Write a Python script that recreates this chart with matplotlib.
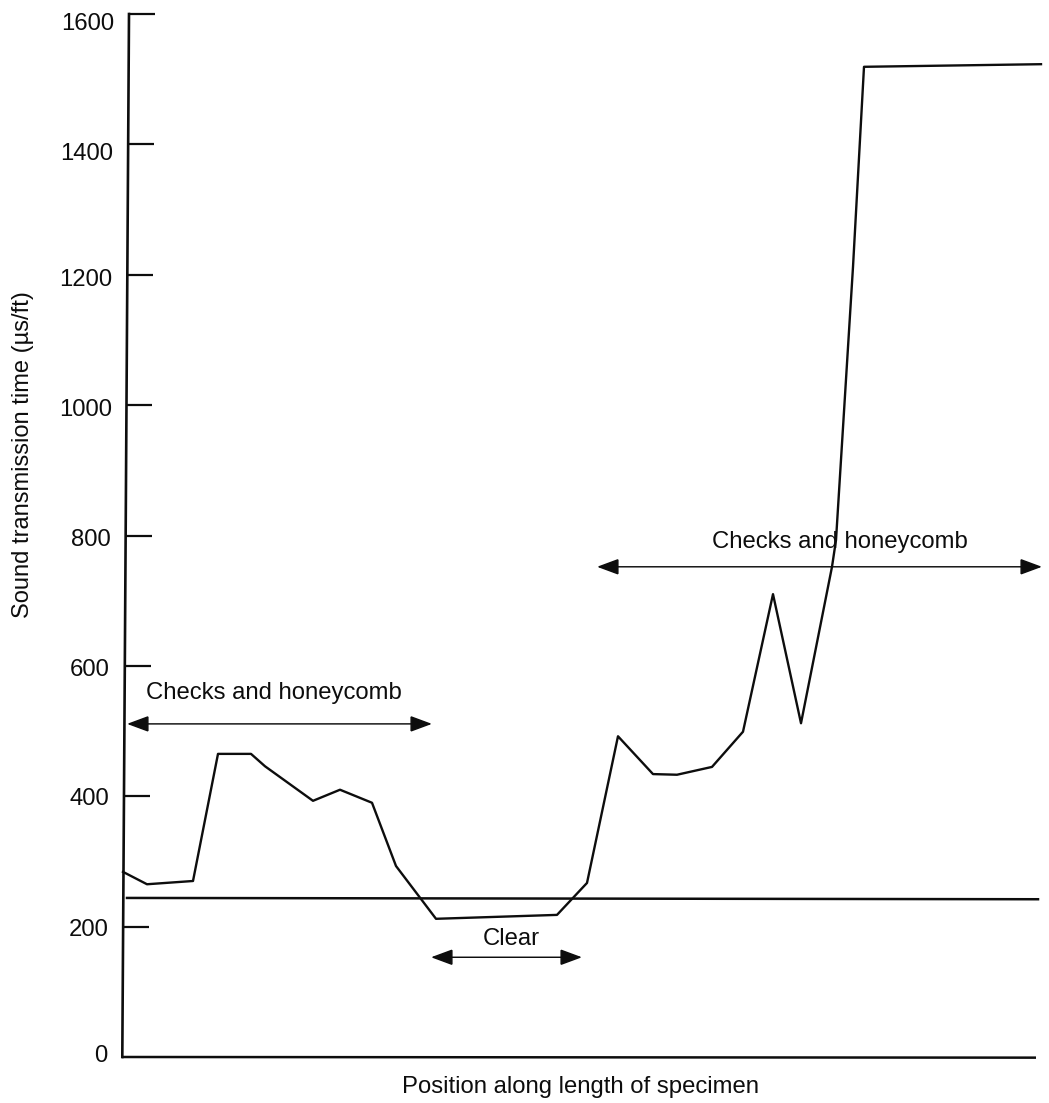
import matplotlib
matplotlib.use("Agg")
import matplotlib.pyplot as plt
from matplotlib.transforms import ScaledTranslation

plt.rcParams['font.family'] = ['Liberation Sans', 'DejaVu Sans']

W, H = 1049, 1103
INK = '#0d0d0d'
FS = 17.2

# position along specimen (arbitrary units), sound transmission time (us/ft)
position = [123, 147, 193, 218, 251, 265, 313, 340, 372, 396, 436, 557, 587,
            618, 653, 677, 712, 743, 773, 801, 832, 836, 853, 864, 1041]
time_us = [284, 265, 270, 465, 465, 446, 393, 410, 390, 293, 212, 218, 267,
           492, 434, 433, 445, 499, 710, 512, 752, 793, 1212, 1519, 1523]
threshold_pos = [127, 1038]
threshold_val = [244, 242]

yticks = [0, 200, 400, 600, 800, 1000, 1200, 1400, 1600]
ytick_marks = [200, 400, 600, 800, 1000, 1200, 1400, 1600]
axis_x = [122.3, 129]
axis_y = [0, 1600]
xaxis_x = [122, 1036]
xaxis_y = [0, -1]
spans = [(127, 432, 511), (597, 1042, 752), (431, 582, 153)]
span_labels = [("Checks and honeycomb", 274, 558),
               ("Checks and honeycomb", 840, 790),
               ("Clear", 511, 181)]
# nudges of the scanned tick labels, in pixels (downwards)
label_nudge = [-3, 1, 0, 2, 2, 2, 3, 7, 7]

fig = plt.figure(figsize=(W / 100, H / 100), dpi=100)
L, R, T, B = 122, 1045, 14, 1057
ax = fig.add_axes([L / W, 1 - B / H, (R - L) / W, (B - T) / H])
ax.set_xlim(L, R)
ax.set_ylim(0, 1600)
ax.patch.set_visible(False)
for s in ('top', 'right', 'left', 'bottom'):
    ax.spines[s].set_visible(False)
LW = 1.8

ax.plot(xaxis_x, xaxis_y, color=INK, lw=LW, clip_on=False, solid_capstyle='butt')
ax.plot(axis_x, axis_y, color=INK, lw=LW + 0.1, clip_on=False, solid_capstyle='projecting')


def axis_at(v):
    return axis_x[0] + (axis_x[1] - axis_x[0]) * v / 1600


for v in ytick_marks:
    x0 = axis_at(v)
    ax.plot([x0, x0 + 26], [v, v], color=INK, lw=1.6, clip_on=False, solid_capstyle='butt')

ax.set_xticks([])
ax.set_yticks(yticks)
ax.tick_params(axis='y', length=0, pad=0, labelsize=FS, labelcolor=INK)
for v, nudge, tick in zip(yticks, label_nudge, ax.yaxis.get_major_ticks()):
    dx = (axis_at(v) - 14.7 - L) / 100
    tick.label1.set_transform(tick.label1.get_transform()
                              + ScaledTranslation(dx, -nudge / 100, fig.dpi_scale_trans))

ax.plot(position, time_us, color=INK, lw=1.7, solid_joinstyle='round', clip_on=False)
ax.plot(threshold_pos, threshold_val, color=INK, lw=LW, clip_on=False)

for x0, x1, y in spans:
    ax.annotate('', xy=(x1, y), xytext=(x0, y),
                arrowprops=dict(arrowstyle='<|-|>,head_length=1.35,head_width=0.5',
                                color=INK, lw=1.05, mutation_scale=10,
                                shrinkA=0, shrinkB=0, joinstyle='miter'),
                annotation_clip=False)
for txt, x, y in span_labels:
    ax.text(x, y, txt, ha='center', va='center', fontsize=FS, color=INK)

fig.text(23 / W, 1 - 455 / H, "Sound transmission time (µs/ft)", rotation=90,
         ha='center', va='center', fontsize=17, color=INK)
fig.text(581 / W, 1 - 1087 / H, "Position along length of specimen",
         ha='center', va='center', fontsize=FS, color=INK)

fig.savefig('out.png', dpi=100)
